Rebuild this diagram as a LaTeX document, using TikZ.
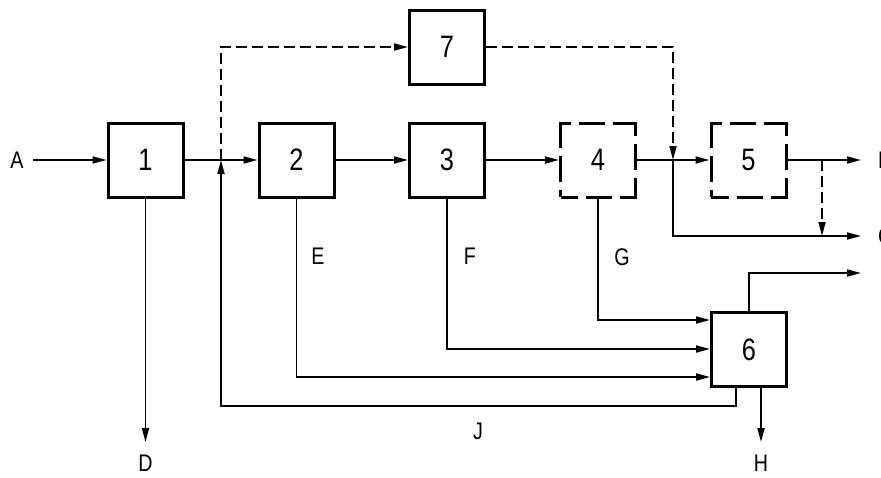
\documentclass[tikz,border=0pt]{standalone}
\usepackage{fontspec}
\setmainfont{Liberation Sans}[FakeStretch=0.82]
\usetikzlibrary{arrows.meta}
\tikzset{
  blk/.style={draw, line width=3pt, minimum width=75pt, minimum height=74pt, inner sep=0pt, font=\fontsize{31}{31}\selectfont},
  dblk/.style={blk, dash pattern=on 35pt off 8pt on 26pt off 8pt, dash phase=17.5pt},
  lbl/.style={inner sep=0pt, font=\fontsize{24}{24}\selectfont},
  conn/.style={line width=1.8pt},
  arr/.style={conn, -{Triangle[length=14pt,width=7pt]}},
  dsh/.style={dash pattern=on 11pt off 5pt}
}
\begin{document}
\begin{tikzpicture}[x=1pt,y=-1pt]
\useasboundingbox (0,0) rectangle (881,477);
% boxes
\node[blk]  (b1) at (145.5,160) {1};
\node[blk]  (b2) at (296.5,160) {2};
\node[blk]  (b3) at (447,160) {3};
\node[dblk] (b4) at (598,160) {4};
\node[dblk] (b5) at (748.5,160) {5};
\node[blk]  (b6) at (749,349.5) {6};
\node[blk]  (b7) at (447,47) {7};
% labels
\node[lbl] (lA) at (17,160) {A};
\node[lbl] (lD) at (145.5,463) {D};
\node[lbl] (lH) at (761,463) {H};
\node[lbl] (lE) at (318,256) {E};
\node[lbl] (lF) at (470,256) {F};
\node[lbl] (lG) at (622,257) {G};
\node[lbl] (lJ) at (478,431) {J};
\node[lbl, anchor=west] (lB) at (878,160) {B};
\node[lbl, anchor=west] (lC) at (878,236) {C};
% helper coordinates
\coordinate (sA) at (33,160);
\coordinate (j1) at (221,160);
\coordinate (j2) at (673,160);
\coordinate (j3) at (822,160);
\coordinate (oB) at (861,160);
\coordinate (oC) at (861,236);
\coordinate (oE) at (861,273);
\coordinate (oD) at (145.5,442);
\coordinate (oH) at (761,442);
\coordinate (f1) at (736,406);
\coordinate (g1) at (0,320);
\coordinate (g2) at (0,349);
\coordinate (g3) at (0,377);
% main chain
\draw[arr] (sA) -- (b1.west);
\draw[arr] (b1.east) -- (b2.west);
\draw[arr] (b2.east) -- (b3.west);
\draw[arr] (b3.east) -- (b4.west);
\draw[arr] (b4.east) -- (b5.west);
\draw[arr] (b5.east) -- (oB);
% dashed bypass through 7
\draw[arr, dsh] (j1) |- (b7.west);
\draw[arr, dsh] (b7.east) -| (j2);
\draw[arr] (j2) |- (oC);
\draw[arr, dsh] (j3) -- (j3 |- oC);
% downward outputs
\draw[arr] (b1.south) -- (oD);
\draw[arr] (b4.south) |- (b6.west |- g1);
\draw[arr] (b3.south) |- (b6.west |- g2);
\draw[arr] (b2.south) |- (b6.west |- g3);
% outputs of 6
\draw[arr] (b6.north) |- (oE);
\draw[arr] (b6.south -| oH) -- (oH);
\draw[arr] (b6.south -| f1) -- (f1) -| (j1);
\end{tikzpicture}
\end{document}
